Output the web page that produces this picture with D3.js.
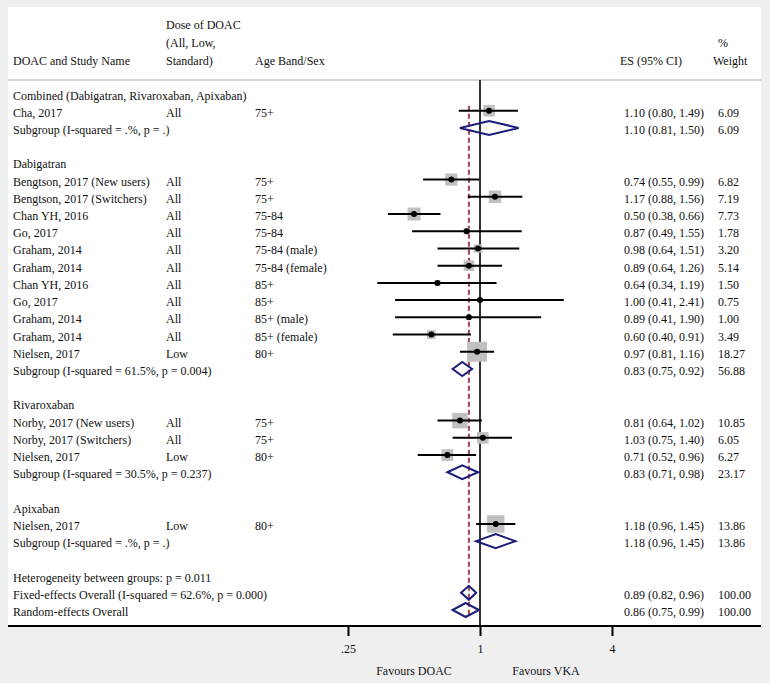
<!DOCTYPE html>
<html><head><meta charset="utf-8">
<script src="https://cdn.jsdelivr.net/npm/d3@7"></script>
<style>html,body{margin:0;padding:0;background:#efefef;}svg{display:block;}</style>
</head><body>
<svg id="chart" width="770" height="683"></svg>
<script>
// ---- data ----
const rowTypes = ["head","study","sub","blank","head","study","study","study","study","study","study","study","study","study","study","study","sub","blank","head","study","study","study","sub","blank","head","study","sub","blank","text","overall","overall"];
const labels = ["Combined (Dabigatran, Rivaroxaban, Apixaban)","Cha, 2017","Subgroup (I-squared = .%, p = .)","",
  "Dabigatran","Bengtson, 2017 (New users)","Bengtson, 2017 (Switchers)","Chan YH, 2016","Go, 2017","Graham, 2014","Graham, 2014","Chan YH, 2016","Go, 2017","Graham, 2014","Graham, 2014","Nielsen, 2017","Subgroup (I-squared = 61.5%, p = 0.004)","",
  "Rivaroxaban","Norby, 2017 (New users)","Norby, 2017 (Switchers)","Nielsen, 2017","Subgroup (I-squared = 30.5%, p = 0.237)","",
  "Apixaban","Nielsen, 2017","Subgroup (I-squared = .%, p = .)","",
  "Heterogeneity between groups: p = 0.011","Fixed-effects Overall (I-squared = 62.6%, p = 0.000)","Random-effects Overall"];
const doses = ["","All","","","","All","All","All","All","All","All","All","All","All","All","Low","","","","All","All","Low","","","","Low","","","","",""];
const ages = ["","75+","","","","75+","75+","75-84","75-84","75-84 (male)","75-84 (female)","85+","85+","85+ (male)","85+ (female)","80+","","","","75+","75+","80+","","","","80+","","","","",""];
const es =  [null,1.10,1.10,null,null,0.74,1.17,0.50,0.87,0.98,0.89,0.64,1.00,0.89,0.60,0.97,0.83,null,null,0.81,1.03,0.71,0.83,null,null,1.18,1.18,null,null,0.89,0.86];
const lo =  [null,0.80,0.81,null,null,0.55,0.88,0.38,0.49,0.64,0.64,0.34,0.41,0.41,0.40,0.81,0.75,null,null,0.64,0.75,0.52,0.71,null,null,0.96,0.96,null,null,0.82,0.75];
const hi =  [null,1.49,1.50,null,null,0.99,1.56,0.66,1.55,1.51,1.26,1.19,2.41,1.90,0.91,1.16,0.92,null,null,1.02,1.40,0.96,0.98,null,null,1.45,1.45,null,null,0.96,0.99];
const weights = [null,6.09,6.09,null,null,6.82,7.19,7.73,1.78,3.20,5.14,1.50,0.75,1.00,3.49,18.27,56.88,null,null,10.85,6.05,6.27,23.17,null,null,13.86,13.86,null,null,100.00,100.00];
const overallES = 0.89;
const tickValues = [0.25, 1, 4];
const tickLabels = [".25", "1", "4"];
const headerLines = {
  name: ["DOAC and Study Name"],
  dose: ["Dose of DOAC","(All, Low,","Standard)"],
  age: ["Age Band/Sex"],
  es: ["ES (95% CI)"],
  wt: ["%","Weight"]
};
const favourLabels = [["Favours DOAC", 0.5], ["Favours VKA", 2]];

// ---- drawing ----
const svg = d3.select("#chart");
const font = "'Liberation Serif','Times New Roman',serif";
const W = 770, H = 683;
const panel = {x0: 8, y0: 7, x1: 761, y1: 626};

svg.append("rect").attr("x",0).attr("y",0).attr("width",W).attr("height",H).attr("fill","#efefef");
svg.append("rect").attr("x",panel.x0).attr("y",panel.y0).attr("width",panel.x1-panel.x0).attr("height",panel.y1-panel.y0).attr("fill","#ffffff");

const x = d3.scaleLog().base(2).domain([0.25, 4]).range([348, 612]);
const y = d3.scaleLinear().domain([0, 30]).range([93.5, 610]);
const boxSize = d3.scaleSqrt().domain([0, 18.27]).range([0, 20]);

const rows = rowTypes.map((t,i) => ({i, t, label: labels[i], dose: doses[i], age: ages[i], es: es[i], lo: lo[i], hi: hi[i], w: weights[i]}));
const f2 = d3.format(".2f");

// header
const colX = {name: 13, dose: 166, age: 255, es: 620, wt: 718};
const headBase = [29, 47, 65];
function headerCol(lines, xx, anchorAdj) {
  lines.forEach((s, k) => {
    const base = headBase[headBase.length - lines.length + k];
    svg.append("text").attr("x", xx + (anchorAdj && anchorAdj[k] || 0)).attr("y", base)
      .attr("font-family", font).attr("font-size", 12).attr("fill", "#111").text(s);
  });
}
headerCol(headerLines.name, colX.name);
headerCol(headerLines.dose, colX.dose);
headerCol(headerLines.age, colX.age);
headerCol(headerLines.es, colX.es);
headerCol(headerLines.wt, colX.wt, [0, -5]);

svg.append("line").attr("x1",panel.x0).attr("x2",panel.x1).attr("y1",80).attr("y2",80)
  .attr("stroke","#d4d4d4").attr("stroke-width",2);

// reference line at 1
svg.append("line").attr("x1",x(1)).attr("x2",x(1)).attr("y1",80).attr("y2",panel.y1)
  .attr("stroke","#333").attr("stroke-width",2);

// overall dashed line
svg.append("line").attr("x1",x(overallES)).attr("x2",x(overallES)).attr("y1",y(1)-5).attr("y2",y(30)+7)
  .attr("stroke","#a8404e").attr("stroke-width",2).attr("stroke-dasharray","5,3");

// text columns
const tg = svg.append("g").attr("font-family", font).attr("font-size", 12).attr("fill", "#111");
rows.filter(r => r.label).forEach(r => {
  tg.append("text").attr("x", colX.name).attr("y", y(r.i) + 6).text(r.label);
});
rows.filter(r => r.dose).forEach(r => {
  tg.append("text").attr("x", colX.dose).attr("y", y(r.i) + 6).text(r.dose);
  tg.append("text").attr("x", colX.age).attr("y", y(r.i) + 6).text(r.age);
});
rows.filter(r => r.es != null).forEach(r => {
  tg.append("text").attr("x", 624).attr("y", y(r.i) + 6).text(`${f2(r.es)} (${f2(r.lo)}, ${f2(r.hi)})`);
  tg.append("text").attr("x", colX.wt).attr("y", y(r.i) + 6).text(f2(r.w));
});

// study marks
const studies = rows.filter(r => r.t === "study");
svg.append("g").selectAll("rect").data(studies).join("rect")
  .attr("x", d => x(d.es) - boxSize(d.w)/2).attr("y", d => y(d.i) - boxSize(d.w)/2)
  .attr("width", d => boxSize(d.w)).attr("height", d => boxSize(d.w))
  .attr("fill", "#c0c0c0");
svg.append("g").selectAll("line").data(studies).join("line")
  .attr("x1", d => x(d.lo)).attr("x2", d => x(d.hi)).attr("y1", d => y(d.i)).attr("y2", d => y(d.i))
  .attr("stroke", "#000").attr("stroke-width", 2);
svg.append("g").selectAll("circle").data(studies).join("circle")
  .attr("cx", d => x(d.es)).attr("cy", d => y(d.i)).attr("r", 3).attr("fill", "#000");

// diamonds
const diam = rows.filter(r => r.t === "sub" || r.t === "overall");
svg.append("g").selectAll("path").data(diam).join("path")
  .attr("d", d => {
    const yy = y(d.i), h = 7;
    return `M${x(d.lo)},${yy}L${x(d.es)},${yy-h}L${x(d.hi)},${yy}L${x(d.es)},${yy+h}Z`;
  })
  .attr("fill", "none").attr("stroke", "#1c1c7a").attr("stroke-width", 2);

// axis
svg.append("line").attr("x1",panel.x0).attr("x2",panel.x1).attr("y1",panel.y1).attr("y2",panel.y1)
  .attr("stroke","#000").attr("stroke-width",2);
const axis = d3.axisBottom(x).tickValues(tickValues).tickFormat((d,i) => tickLabels[i]).tickSize(10).tickPadding(8);
const ag = svg.append("g").attr("transform", `translate(0,${panel.y1})`).call(axis);
ag.select(".domain").remove();
ag.selectAll(".tick line").attr("stroke","#000").attr("stroke-width",2);
ag.selectAll(".tick text").attr("font-family", font).attr("font-size", 12).attr("fill","#111");

favourLabels.forEach(([s, v]) => {
  svg.append("text").attr("x", x(v)).attr("y", 675).attr("text-anchor","middle")
    .attr("font-family", font).attr("font-size", 12).attr("fill","#111").text(s);
});
</script>
</body></html>
